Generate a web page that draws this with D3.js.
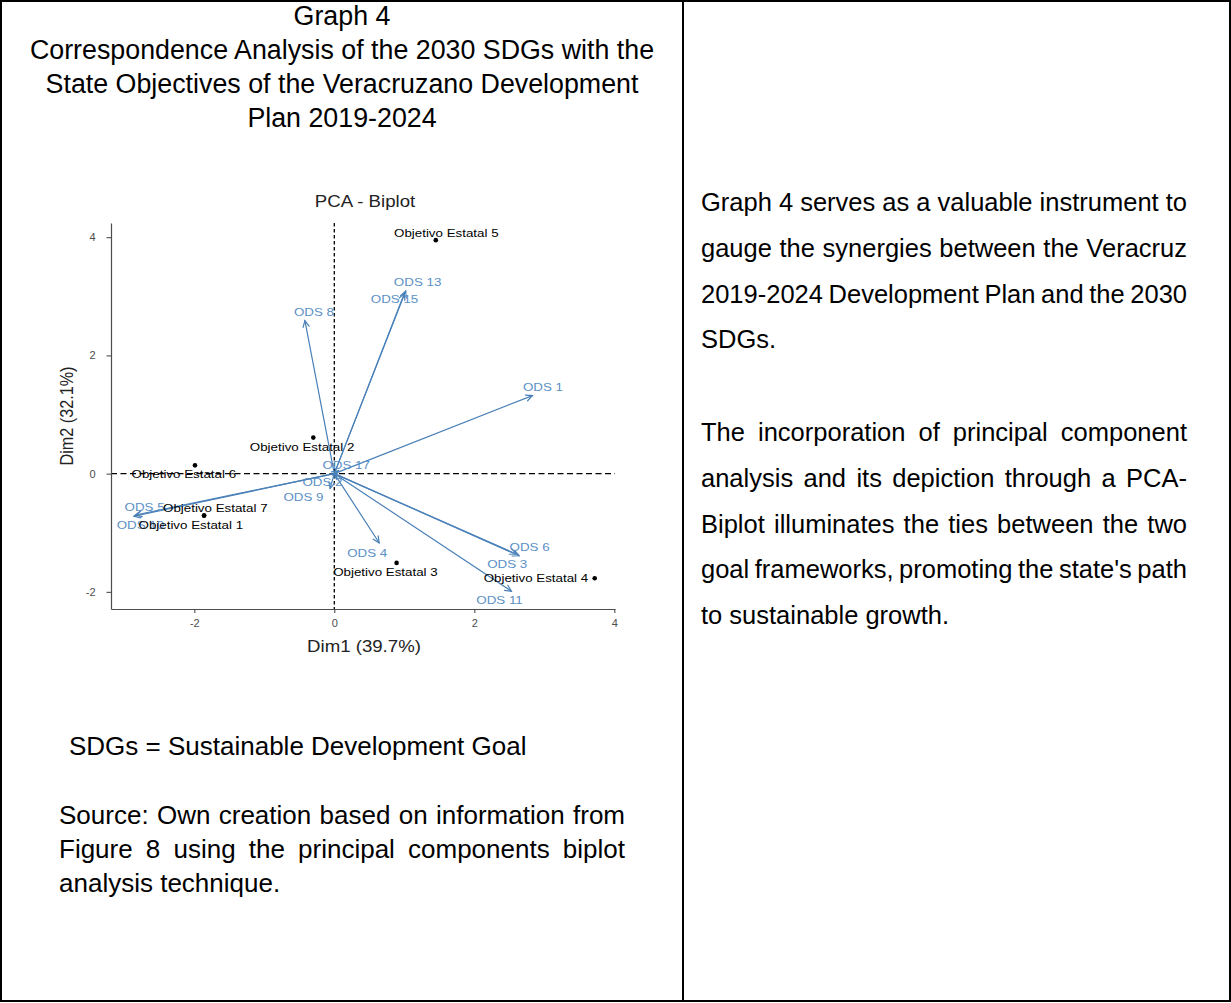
<!DOCTYPE html>
<html>
<head>
<meta charset="utf-8">
<script src="https://cdn.jsdelivr.net/npm/d3@7"></script>
<style>
  html, body { margin: 0; padding: 0; background: #ffffff; }
  svg { display: block; }
</style>
</head>
<body>
<svg id="page" width="1231" height="1003"></svg>
<script>
// ---------- data ----------
// State objectives (individuals) in the first two principal dimensions
const objNames = ["Objetivo Estatal 1", "Objetivo Estatal 2", "Objetivo Estatal 3", "Objetivo Estatal 4",
                  "Objetivo Estatal 5", "Objetivo Estatal 6", "Objetivo Estatal 7"];
const objDim1 = [-1.86, -0.30, 0.89, 3.72, 1.45, -1.99, -1.86];
const objDim2 = [-0.71, 0.61, -1.51, -1.77, 3.95, 0.14, -0.71];
// label anchors after repelling (data units)
const objLabelDim1 = [-2.05, -0.46, 0.73, 2.88, 1.60, -2.15, -1.70];
const objLabelDim2 = [-0.86, 0.45, -1.66, -1.77, 4.08, 0.00, -0.58];

// SDG variables (arrows)
const odsNames = ["ODS 1", "ODS 2", "ODS 3", "ODS 4", "ODS 5", "ODS 6", "ODS 8", "ODS 9",
                  "ODS 10", "ODS 11", "ODS 13", "ODS 15", "ODS 17"];
const odsDim1 = [2.83, 0.03, 2.60, 0.64, -2.86, 2.64, -0.42, -0.06, -2.84, 2.53, 1.02, 1.00, 0.06];
const odsDim2 = [1.32, -0.08, -1.36, -1.17, -0.72, -1.39, 2.59, -0.25, -0.70, -1.99, 3.09, 3.05, 0.05];
const odsLabelDim1 = [2.98, -0.17, 2.47, 0.47, -2.71, 2.79, -0.29, -0.44, -2.77, 2.36, 1.19, 0.86, 0.17];
const odsLabelDim2 = [1.46, -0.14, -1.53, -1.34, -0.57, -1.24, 2.74, -0.39, -0.86, -2.14, 3.24, 2.96, 0.14];

const xTicks = [-2, 0, 2, 4];
const yTicks = [-2, 0, 2, 4];
const xDomain = [-3.19, 4.01];
const yDomain = [-2.29, 4.24];

const chartTitle = "PCA - Biplot";
const xTitle = "Dim1 (39.7%)";
const yTitle = "Dim2 (32.1%)";

// ---------- document text ----------
const headingLines = ["Graph 4",
  "Correspondence Analysis of the 2030 SDGs with the",
  "State Objectives of the Veracruzano Development",
  "Plan 2019-2024"];
const noteLine = "SDGs = Sustainable Development Goal";
const sourceLines = ["Source: Own creation based on information from",
  "Figure 8 using the principal components biplot",
  "analysis technique."];
const bodyParagraphs = [
  ["Graph 4 serves as a valuable instrument to",
   "gauge the synergies between the Veracruz",
   "2019-2024 Development Plan and the 2030",
   "SDGs."],
  ["The incorporation of principal component",
   "analysis and its depiction through a PCA-",
   "Biplot illuminates the ties between the two",
   "goal frameworks, promoting the state's path",
   "to sustainable growth."]
];

// ---------- page ----------
const svg = d3.select("#page");
const FONT = "'Liberation Sans', Arial, Helvetica, sans-serif";

svg.append("rect").attr("width", 1231).attr("height", 1003).attr("fill", "#ffffff");

// table frame with two cells
const frame = svg.append("g").attr("stroke", "#000").attr("stroke-width", 2).attr("fill", "none");
frame.append("rect").attr("x", 1).attr("y", 1).attr("width", 1229).attr("height", 1000);
frame.append("line").attr("x1", 683).attr("x2", 683).attr("y1", 1).attr("y2", 1001);

// writes one line of text, optionally justified between x0 and x1
function writeLine(g, str, x0, x1, baseline, size, justify) {
  if (!justify) {
    g.append("text").attr("x", x0).attr("y", baseline)
      .attr("font-family", FONT).attr("font-size", size).attr("fill", "#000").text(str);
    return;
  }
  const words = str.split(" ");
  const nodes = words.map(w => g.append("text").attr("y", baseline)
      .attr("font-family", FONT).attr("font-size", size).attr("fill", "#000").text(w));
  const widths = nodes.map(n => n.node().getComputedTextLength());
  const total = d3.sum(widths);
  const gap = (x1 - x0 - total) / (words.length - 1);
  let cx = x0;
  nodes.forEach((n, i) => { n.attr("x", cx); cx += widths[i] + gap; });
}

const doc = svg.append("g");

// heading of the left cell
const headBase = [25, 59, 93, 127];
headingLines.forEach((s, i) => {
  doc.append("text").attr("x", 342).attr("y", headBase[i]).attr("text-anchor", "middle")
    .attr("font-family", FONT).attr("font-size", 26.8).attr("fill", "#000").text(s);
});

// note and source under the chart
writeLine(doc, noteLine, 69, 0, 755, 26, false);
const srcBase = [824, 858, 892];
sourceLines.forEach((s, i) => writeLine(doc, s, 59, 625, srcBase[i], 26, i < sourceLines.length - 1));

// right cell paragraphs
const bodyBase = [[211, 257, 303, 348], [441, 487, 533, 578, 624]];
bodyParagraphs.forEach((para, p) => {
  para.forEach((s, i) => writeLine(doc, s, 701, 1187, bodyBase[p][i], 25.5, i < para.length - 1));
});

// ---------- biplot ----------
const x = d3.scaleLinear().domain(xDomain).range([111, 615]);
const y = d3.scaleLinear().domain(yDomain).range([609, 223]);

const AXIS = "#4d4d4d";
const ARROW = "#4a80b8";
const VARTEXT = "#5a8fc6";
const STRETCH = 1.15;   // horizontal stretch of the embedded plot

const plot = svg.append("g");

// reference lines through the origin
plot.append("line").attr("x1", x.range()[0]).attr("x2", x.range()[1])
  .attr("y1", y(0)).attr("y2", y(0))
  .attr("stroke", "#000").attr("stroke-width", 1.1).attr("stroke-dasharray", "6,3.5");
plot.append("line").attr("x1", x(0)).attr("x2", x(0))
  .attr("y1", y.range()[1]).attr("y2", y.range()[0])
  .attr("stroke", "#000").attr("stroke-width", 1.3).attr("stroke-dasharray", "3.5,2.5");

// axes
const gx = plot.append("g").attr("transform", `translate(0,${y.range()[0]})`)
  .call(d3.axisBottom(x).tickValues(xTicks).tickFormat(d => String(d))
        .tickSize(4).tickSizeOuter(0).tickPadding(6));
const gy = plot.append("g").attr("transform", `translate(${x.range()[0]},0)`)
  .call(d3.axisLeft(y).tickValues(yTicks).tickFormat(d => String(d))
        .tickSize(4.5).tickSizeOuter(0).tickPadding(11));
[gx, gy].forEach(g => {
  g.select(".domain").attr("stroke", AXIS).attr("stroke-width", 1.2);
  g.selectAll(".tick line").attr("stroke", AXIS).attr("stroke-width", 1.1);
  g.selectAll(".tick text").attr("fill", AXIS).attr("font-family", FONT).attr("font-size", 11);
});

// titles
plot.append("text").attr("transform", `translate(365,207) scale(${STRETCH},1)`)
  .attr("text-anchor", "middle").attr("font-family", FONT).attr("font-size", 16.2)
  .attr("fill", "#222").text(chartTitle);
plot.append("text").attr("transform", `translate(364,652) scale(${STRETCH},1)`)
  .attr("text-anchor", "middle").attr("font-family", FONT).attr("font-size", 16.2)
  .attr("fill", "#222").text(xTitle);
plot.append("text").attr("transform", `translate(73,416) rotate(-90) scale(1,${STRETCH})`)
  .attr("text-anchor", "middle").attr("font-family", FONT).attr("font-size", 16.2)
  .attr("fill", "#222").text(yTitle);

// arrows for the variables
const arrows = plot.append("g").attr("stroke", ARROW).attr("stroke-width", 1.2)
  .attr("fill", "none").attr("stroke-linecap", "round");
odsNames.forEach((n, i) => {
  const x0 = x(0), y0 = y(0), x1 = x(odsDim1[i]), y1 = y(odsDim2[i]);
  arrows.append("line").attr("x1", x0).attr("y1", y0).attr("x2", x1).attr("y2", y1);
  const ang = Math.atan2(y1 - y0, x1 - x0);
  const L = 7, a = Math.PI / 7;
  const head = d3.path();
  head.moveTo(x1 - L * Math.cos(ang - a), y1 - L * Math.sin(ang - a));
  head.lineTo(x1, y1);
  head.lineTo(x1 - L * Math.cos(ang + a), y1 - L * Math.sin(ang + a));
  arrows.append("path").attr("d", head.toString());
});

// label placement with a leader segment when the label sits far from its anchor
function placeLabel(g, str, lx, ly, ax, ay, color, size) {
  const t = g.append("text")
    .attr("transform", `translate(${lx},${ly}) scale(${STRETCH},1)`)
    .attr("text-anchor", "middle").attr("dy", "0.35em")
    .attr("font-family", FONT).attr("font-size", size).attr("fill", color).text(str);
  const w = t.node().getComputedTextLength() * STRETCH;
  const h = size * 0.75;
  const bx = Math.max(lx - w / 2, Math.min(ax, lx + w / 2));
  const by = Math.max(ly - h / 2, Math.min(ay, ly + h / 2));
  const d = Math.hypot(ax - bx, ay - by);
  if (d > 8) {
    g.insert("line", "text").attr("x1", bx).attr("y1", by).attr("x2", ax).attr("y2", ay)
      .attr("stroke", color).attr("stroke-width", 1);
  }
}

const varLabels = plot.append("g");
odsNames.forEach((n, i) => {
  placeLabel(varLabels, n, x(odsLabelDim1[i]), y(odsLabelDim2[i]),
             x(odsDim1[i]), y(odsDim2[i]), VARTEXT, 11.6);
});

// individuals
const ind = plot.append("g");
ind.selectAll("circle").data(objNames).join("circle")
  .attr("cx", (d, i) => x(objDim1[i])).attr("cy", (d, i) => y(objDim2[i]))
  .attr("r", 2.3).attr("fill", "#000");
objNames.forEach((n, i) => {
  placeLabel(ind, n, x(objLabelDim1[i]), y(objLabelDim2[i]),
             x(objDim1[i]), y(objDim2[i]), "#000", 11.6);
});
</script>
</body>
</html>
